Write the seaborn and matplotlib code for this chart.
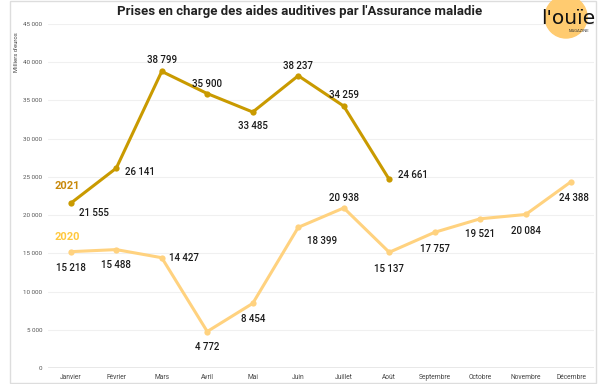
import matplotlib
matplotlib.use("Agg")
import matplotlib.pyplot as plt
import matplotlib.patches as mpatches
import seaborn as sns
import pandas as pd

# Data
months = ["Janvier", "Février", "Mars", "Avril", "Mai", "Juin", "Juillet",
          "Août", "Septembre", "Octobre", "Novembre", "Décembre"]
values_2021 = [21555, 26141, 38799, 35900, 33485, 38237, 34259, 24661]
values_2020 = [15218, 15488, 14427, 4772, 8454, 18399, 20938, 15137,
               17757, 19521, 20084, 24388]
yticks = [0, 5000, 10000, 15000, 20000, 25000, 30000, 35000, 40000, 45000]

# label placement: (dx, dy, ha) in points
pos_2021 = [(6, -7, "left"), (6, -3, "left"), (0, 8, "center"), (0, 7, "center"),
            (0, -10, "center"), (0, 7, "center"), (0, 8, "center"), (6, 3, "left")]
pos_2020 = [(0, -12, "center"), (0, -11, "center"), (5, 0, "left"), (0, -11, "center"),
            (0, -11, "center"), (6, -10, "left"), (0, 7, "center"), (0, -12, "center"),
            (0, -12, "center"), (0, -11, "center"), (0, -12, "center"), (2, -12, "center")]

C2021 = "#C99A00"
C2020 = "#FFD27F"

df = pd.concat([
    pd.DataFrame({"mois": months[:len(values_2021)], "valeur": values_2021, "annee": "2021"}),
    pd.DataFrame({"mois": months, "valeur": values_2020, "annee": "2020"}),
])

sns.set_style("white")
plt.rcParams["font.family"] = ["Roboto", "DejaVu Sans"]

fig = plt.figure(figsize=(6, 3.84), dpi=100)
ax = fig.add_axes([48 / 600, 16 / 384, 546 / 600, 344 / 384])

sns.lineplot(data=df, x="mois", y="valeur", hue="annee", sort=False,
             palette={"2021": C2021, "2020": C2020}, linewidth=2.2,
             marker="o", markersize=4.5, markeredgewidth=0, legend=False, ax=ax)

ax.set_xlim(-0.5, 11.5)
ax.set_ylim(0, 45000)
ax.set_yticks(yticks)
ax.set_yticklabels([f"{v:,}".replace(",", " ") for v in yticks],
                   fontsize=4.5, color="#555555")
ax.set_xticks(range(len(months)))
ax.set_xticklabels(months, fontsize=4.8, color="#444444")
ax.tick_params(length=0, pad=4)
ax.set_xlabel("")
ax.set_ylabel("")
ax.grid(axis="y", color="#F0F0F0", linewidth=0.8)
ax.axhline(0, color="#E6E6E6", linewidth=2, zorder=0)
for s in ax.spines.values():
    s.set_visible(False)


def fmt(v):
    return f"{v:,}".replace(",", " ")


for vals, pos in ((values_2021, pos_2021), (values_2020, pos_2020)):
    for i, (v, (dx, dy, ha)) in enumerate(zip(vals, pos)):
        ax.annotate(fmt(v), (i, v), xytext=(dx, dy), textcoords="offset points",
                    ha=ha, va="center", fontsize=7, color="#1a1a1a", fontweight="medium")

fig.text(55 / 600, 1 - 186 / 384, "2021", color="#C8890B", fontsize=8,
         fontweight="bold", va="center")
fig.text(55 / 600, 1 - 237 / 384, "2020", color="#FFC83D", fontsize=8,
         fontweight="bold", va="center")

fig.text(300 / 600, 1 - 12 / 384, "Prises en charge des aides auditives par l'Assurance maladie",
         ha="center", va="center", fontsize=9.5, fontweight="bold", color="#222222")
fig.text(17 / 600, 1 - 52 / 384, "Milliers d'euros", rotation=90, ha="center",
         va="center", fontsize=4.2, color="#444444")

# frame around the chart
fig.add_artist(mpatches.Rectangle((10 / 600, 1 / 384), 586 / 600, 382 / 384,
                                  transform=fig.transFigure, fill=False,
                                  edgecolor="#DDDDDD", linewidth=1))

# logo
fig.add_artist(mpatches.Ellipse((566 / 600, 1 - 17 / 384), 42 / 600, 42 / 384,
                                transform=fig.transFigure, color="#FFCB70", zorder=5))
fig.text(568 / 600, 1 - 19 / 384, "l'ouïe", ha="center", va="center", fontsize=14.5,
         color="#111111", zorder=6, family=["DejaVu Sans"])
fig.text(579 / 600, 1 - 31 / 384, "MAGAZINE", ha="center", va="center", fontsize=3,
         color="#333333", zorder=6)

fig.savefig("out.png", dpi=100)
